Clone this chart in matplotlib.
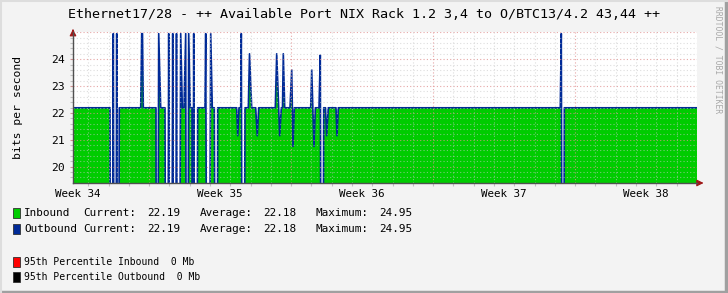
import matplotlib
matplotlib.use("Agg")
import matplotlib.pyplot as plt
from matplotlib.lines import Line2D
from matplotlib.patches import Rectangle

# time in days from the left edge of the graph, value in bits per second
t = [0.0, 1.824, 1.873, 1.986, 2.070, 2.154, 2.203, 2.282, 3.337, 3.386, 3.425, 3.465,
     4.091, 4.125, 4.224, 4.322, 4.534, 4.618, 4.717, 4.815, 4.914, 5.012, 5.101, 5.190,
     5.308, 5.387, 5.471, 5.554, 5.618, 5.702, 5.781, 5.865, 5.880, 5.949, 6.047, 6.146,
     6.506, 6.540, 6.653, 6.787, 6.865, 6.964, 7.082, 7.132, 8.068, 8.117, 8.181, 8.265,
     8.295, 8.379, 8.477, 8.640, 8.699, 8.807, 9.004, 9.083, 9.152, 9.970, 10.039, 10.187,
     10.266, 10.325, 10.365, 10.434, 10.695, 10.779, 10.843, 10.907, 11.715, 11.765, 11.878,
     11.942, 12.124, 12.188, 12.272, 12.356, 12.444, 12.503, 12.582, 12.962, 13.011, 13.075,
     24.016, 24.066, 24.149, 24.214, 30.754]
traffic = [22.19, 22.19, 0, 24.95, 0, 24.95, 0, 22.19, 22.19, 24.95, 24.95, 22.19,
           22.19, 0, 24.95, 22.19, 22.19, 0, 24.95, 0, 24.95, 0, 24.95, 0,
           24.95, 22.19, 22.19, 24.95, 0, 24.95, 22.19, 22.19, 0, 24.95, 0, 22.19,
           22.19, 24.95, 0, 24.95, 22.19, 22.19, 0, 22.19, 22.19, 21.15, 22.19, 22.19,
           24.95, 0, 22.19, 22.19, 24.2, 22.19, 22.19, 21.15, 22.19, 22.19, 24.2, 21.15,
           22.19, 22.19, 24.2, 22.19, 22.19, 23.6, 20.75, 22.19, 22.19, 23.6, 20.75,
           22.19, 22.19, 24.15, 0, 22.19, 22.19, 21.15, 22.19, 22.19, 21.15, 22.19,
           22.19, 24.95, 0, 22.19, 22.19]

week_labels = ["Week 34", "Week 35", "Week 36", "Week 37", "Week 38"]
week_label_pos = [0.25, 7.25, 14.25, 21.25, 28.25]
week_lines = [3.75, 10.75, 17.75, 24.75]
day_lines = [0.75 + i for i in range(30)]
y_ticks = [20, 21, 22, 23, 24]

legend_rows = [
    ("Inbound", "22.19", "22.18", "24.95"),
    ("Outbound", "22.19", "22.18", "24.95"),
]
percentile_rows = [("95th Percentile Inbound  0 Mb", "#FF0000"),
                   ("95th Percentile Outbound  0 Mb", "#000000")]

GREEN = "#00CC00"
BLUE = "#002A97"
BG = "#F3F3F3"
MONO = "DejaVu Sans Mono"

W, H = 728, 293
fig = plt.figure(figsize=(W / 100, H / 100), dpi=100, facecolor=BG)
ax = fig.add_axes([73 / W, 1 - 183 / H, (697 - 73) / W, (183 - 32.3) / H])
ax.set_facecolor("white")

ax.fill_between(t, 0, traffic, color=GREEN, lw=0, zorder=2)
ax.plot(t, traffic, color=BLUE, lw=1.2, zorder=3)

ax.set_xlim(0, 30.754)
ax.set_ylim(19.39, 25.0)

# grid (rrdtool draws it over the data)
for i in range(19, 126):
    y = i / 5
    if y < 19.39 or y > 25.0:
        continue
    if i % 5 == 0:
        ax.axhline(y, color="#E09090", lw=0.8, ls=(0, (1, 2)), zorder=4, alpha=0.8)
    else:
        ax.axhline(y, color="#C8C8C8", lw=0.8, ls=(0, (1, 2)), zorder=4, alpha=0.6)
for x in day_lines:
    if x in week_lines:
        ax.axvline(x, color="#E09090", lw=0.8, ls=(0, (1, 2)), zorder=4, alpha=0.8)
    else:
        ax.axvline(x, color="#C8C8C8", lw=0.8, ls=(0, (1, 2)), zorder=4, alpha=0.6)

for s in ["top", "right"]:
    ax.spines[s].set_visible(False)
for s in ["left", "bottom"]:
    ax.spines[s].set_color("#505050")
    ax.spines[s].set_linewidth(1.0)
    ax.spines[s].set_zorder(5)

ax.set_yticks(y_ticks)
ax.set_yticklabels([str(v) for v in y_ticks], fontfamily=MONO, fontsize=8.2)
ax.tick_params(axis="y", length=2, width=0.8, color="#D09090", pad=4)
ax.set_xticks(week_label_pos)
ax.set_xticklabels(week_labels, fontfamily=MONO, fontsize=7.8)
ax.tick_params(axis="x", length=0, pad=4)
ax.set_xticks(day_lines, minor=True)
ax.tick_params(axis="x", which="minor", length=2, width=0.8, color="#C0C0C0")
ax.set_yticks([i / 5 for i in range(98, 125)], minor=True)
ax.tick_params(axis="y", which="minor", length=2, width=0.8, color="#C0C0C0")

# axis arrows
ax.annotate("", xy=(0, 1.04), xytext=(0, 0.99), xycoords="axes fraction",
            arrowprops=dict(arrowstyle="-|>,head_length=0.4,head_width=0.2",
                            color="#A01818", lw=0.8), annotation_clip=False)
ax.annotate("", xy=(1.015, 0), xytext=(1.0, 0), xycoords="axes fraction",
            arrowprops=dict(arrowstyle="-|>,head_length=0.4,head_width=0.2",
                            color="#A01818", lw=0.8), annotation_clip=False)

fig.text(364 / W, 1 - 15 / H,
         "Ethernet17/28 - ++ Available Port NIX Rack 1.2 3,4 to O/BTC13/4.2 43,44 ++",
         ha="center", va="center", fontfamily=MONO, fontsize=9.6)
fig.text(18 / W, 1 - 107 / H, "bits per second", rotation=90, ha="center",
         va="center", fontfamily=MONO, fontsize=8.2)
fig.text(718 / W, 1 - 60 / H, "RRDTOOL / TOBI OETIKER", rotation=270, ha="center",
         va="center", fontfamily=MONO, fontsize=5.8, color="#A8A8A8")


def legend_box(y, col):
    fig.add_artist(Rectangle((13 / W, 1 - (y + 5) / H), 6.5 / W, 10 / H,
                             facecolor=col, edgecolor="#303030", lw=0.6))


def legend_text(x, y, s, size=7.9):
    fig.text(x / W, 1 - y / H, s, ha="left", va="center", fontfamily=MONO,
             fontsize=size)


# legend
for (name, cur, avg, mx), y, col in zip(legend_rows, [213.3, 229.3], [GREEN, BLUE]):
    legend_box(y, col)
    for x, s in [(24.3, name), (83.3, "Current:"), (146.7, cur), (200, "Average:"),
                 (263, avg), (316, "Maximum:"), (379.3, mx)]:
        legend_text(x, y, s)
for (s, col), y in zip(percentile_rows, [261.7, 277]):
    legend_box(y, col)
    legend_text(24.3, y, s, size=7.0)

# 3d frame around the canvas
fig.add_artist(Line2D([0, 1], [0.003, 0.003], color="#A0A0A0", lw=2.5))
fig.add_artist(Line2D([0.997, 0.997], [0, 1], color="#A0A0A0", lw=2.5))
fig.add_artist(Line2D([0, 1], [0.998, 0.998], color="#DDDDDD", lw=1.5))
fig.add_artist(Line2D([0.001, 0.001], [0, 1], color="#DDDDDD", lw=1.5))

fig.savefig("out.png", dpi=100, facecolor=BG)
